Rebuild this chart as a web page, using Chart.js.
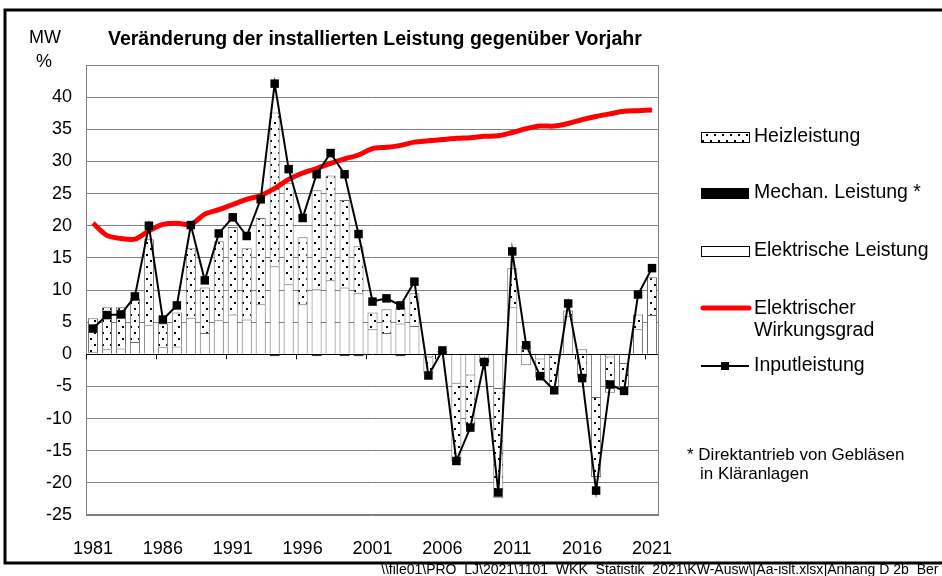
<!DOCTYPE html>
<html>
<head>
<meta charset="utf-8">
<script src="https://cdn.jsdelivr.net/npm/chart.js@4.4.1/dist/chart.umd.min.js"></script>
<style>
  body { margin: 0; background: #fff; }
  canvas { display: block; }
</style>
</head>
<body>
<canvas id="myChart" width="942" height="576"></canvas>
<script>
// Jahre 1981 - 2021
const years = [];
for (let y = 1981; y <= 2021; y++) years.push(String(y));

// Elektrische Leistung (MW)
const elektrisch = [0.3, 0.8, 0.9, 1.9, 4.5, 1.1, 1.2, 5.7, 3.3, 5.3,
    6.2, 5.4, 7.8, 13.7, 10.9, 7.8, 10.1, 11.5, 10.4, 9.5,
    3.9, 3.3, 4.8, 4.4, -0.5, 0.3, -4.6, -3.3, -0.7, -5.4,
    7.3, -1.7, -0.8, -0.3, 6.0, 0.8, -6.8, -0.5, -1.5, 3.9, 6.1];

// Mechan. Leistung (MW)
const mechanisch = [0, 0, 0, 0, 0, 0, 0, 0, 0, 0,
    0, 0, 0, -0.3, 0, 0, -0.3, 0, -0.3, -0.3,
    0, 0, -0.3, 0, 0, 0, 0, 0, -0.6, 0,
    0, 0, 0, 0, 0, 0, 0, 0, 0, 0, 0];

// Heizleistung (MW)
const heiz = [5.3, 6.5, 6.4, 6.8, 13.4, 3.7, 5.3, 10.8, 7.1, 12.3,
    13.6, 11.1, 13.4, 23.9, 15.7, 10.4, 15.4, 16.3, 13.6, 7.3,
    2.6, 3.7, 2.5, 5.1, -2.5, 0.2, -12.0, -7.8, 0, -17.0,
    6.1, 1.4, -2.8, -4.8, 0.8, -3.6, -12.3, -5.5, -3.6, 2.3, 5.9];

// Inputleistung (MW)
const input = [4.0, 6.1, 6.2, 9.0, 20.0, 5.4, 7.6, 20.1, 11.5, 18.8,
    21.3, 18.4, 24.1, 42.1, 28.8, 21.2, 28.0, 31.3, 28.0, 18.7,
    8.2, 8.7, 7.6, 11.3, -3.3, 0.6, -16.6, -11.4, -1.2, -21.5,
    16.0, 1.4, -3.4, -5.6, 7.9, -3.7, -21.2, -4.7, -5.7, 9.3, 13.4];

// Elektrischer Wirkungsgrad (%)
const wirkungsgrad = [20.4, 18.5, 18.0, 17.9, 19.2, 20.2, 20.4, 20.2, 21.8, 22.5,
    23.3, 24.1, 24.7, 25.8, 27.2, 28.2, 28.9, 29.7, 30.4, 31.0,
    32.0, 32.2, 32.5, 33.0, 33.2, 33.4, 33.6, 33.7, 33.9, 34.0,
    34.5, 35.1, 35.5, 35.5, 35.9, 36.5, 37.0, 37.4, 37.8, 37.9, 38.0];

const FONT = "'Liberation Sans', Arial, sans-serif";

// dotted pattern for Heizleistung
function makeDots() {
    const c = document.createElement('canvas');
    c.width = 8;
    c.height = 12;
    const g = c.getContext('2d');
    g.fillStyle = '#fff';
    g.fillRect(0, 0, 8, 12);
    g.fillStyle = '#000';
    g.fillRect(2, 2, 2, 2);
    g.fillRect(6, 8, 2, 2);
    return g.createPattern(c, 'repeat');
}
const dots = makeDots();

// title, legend, frame etc.
const decor = {
    id: 'decor',
    afterDraw(chart) {
        const ctx = chart.ctx;
        const a = chart.chartArea;
        ctx.save();

        // plot border
        ctx.strokeStyle = '#808080';
        ctx.lineWidth = 1;
        ctx.strokeRect(a.left + 0.5, a.top + 0.5, a.right - a.left - 1, a.bottom - a.top - 1);

        // tick marks on zero line
        const y0 = chart.scales.y.getPixelForValue(0);
        const w = (a.right - a.left) / years.length;
        ctx.strokeStyle = '#000';
        ctx.beginPath();
        for (let i = 0; i <= years.length; i += 5) {
            const x = Math.round(a.left + i * w) + 0.5;
            ctx.moveTo(x, y0);
            ctx.lineTo(x, y0 + 5);
        }
        ctx.stroke();

        // outer frame
        ctx.strokeStyle = '#000';
        ctx.lineWidth = 3;
        ctx.strokeRect(5, 10, 950, 553);

        ctx.fillStyle = '#000';
        ctx.textBaseline = 'middle';
        ctx.textAlign = 'left';
        ctx.font = 'bold 19.5px ' + FONT;
        ctx.fillText('Veränderung der installierten Leistung gegenüber Vorjahr', 108, 40);
        ctx.font = '18px ' + FONT;
        ctx.fillText('MW', 29, 38);
        ctx.fillText('%', 36, 62);

        // legend
        const sx = 701, sw = 48, tx = 754;
        ctx.font = '19.5px ' + FONT;
        // Heizleistung
        ctx.fillStyle = dots;
        ctx.fillRect(sx, 132, sw, 10);
        ctx.strokeStyle = '#000';
        ctx.lineWidth = 1;
        ctx.strokeRect(sx + 0.5, 132.5, sw, 10);
        ctx.fillStyle = '#000';
        ctx.fillText('Heizleistung', tx, 137);
        // Mechan.
        ctx.fillRect(sx, 188, sw, 11);
        ctx.fillText('Mechan. Leistung *', tx, 193);
        // Elektrische
        ctx.strokeRect(sx + 0.5, 246.5, sw, 10);
        ctx.fillText('Elektrische Leistung', tx, 251);
        // Wirkungsgrad
        ctx.strokeStyle = '#ff0000';
        ctx.lineWidth = 5;
        ctx.lineCap = 'round';
        ctx.beginPath();
        ctx.moveTo(sx + 2, 308);
        ctx.lineTo(sx + sw, 308);
        ctx.stroke();
        ctx.fillText('Elektrischer', tx, 309);
        ctx.fillText('Wirkungsgrad', tx, 331);
        // Input
        ctx.strokeStyle = '#000';
        ctx.lineWidth = 2;
        ctx.lineCap = 'butt';
        ctx.beginPath();
        ctx.moveTo(sx, 366);
        ctx.lineTo(sx + sw, 366);
        ctx.stroke();
        ctx.fillRect(sx + sw / 2 - 4, 362, 8, 8);
        ctx.fillText('Inputleistung', tx, 366);

        // footnote
        ctx.font = '17px ' + FONT;
        ctx.fillText('* Direktantrieb von Gebläsen', 687, 455);
        ctx.fillText('in Kläranlagen', 700, 474);

        // file path
        ctx.font = '14px ' + FONT;
        ctx.fillText('\\\\file01\\PRO_LJ\\2021\\1101_WKK_Statistik_2021\\KW-Ausw\\[Aa-islt.xlsx]Anhang D 2b_Ber', 381, 570);
        ctx.restore();
    }
};

const barCommon = {
    type: 'bar',
    stack: 'leistung',
    borderColor: '#6a6a6a',
    borderWidth: 1,
    barPercentage: 0.72,
    categoryPercentage: 1.0
};

new Chart('myChart', {
    data: {
        labels: years,
        datasets: [
            {
                type: 'line',
                label: 'Inputleistung',
                data: input,
                stack: 'inp',
                order: 0,
                borderColor: '#000',
                backgroundColor: '#000',
                borderWidth: 2,
                pointStyle: 'rect',
                pointRadius: 6,
                pointBorderWidth: 0,
                tension: 0
            },
            {
                type: 'line',
                label: 'Elektrischer Wirkungsgrad',
                data: wirkungsgrad,
                stack: 'wg',
                order: 1,
                borderColor: '#ff0000',
                borderWidth: 5,
                pointRadius: 0,
                tension: 0.3
            },
            Object.assign({}, barCommon, {
                label: 'Elektrische Leistung',
                data: elektrisch,
                order: 2,
                backgroundColor: '#fff'
            }),
            Object.assign({}, barCommon, {
                label: 'Mechan. Leistung *',
                data: mechanisch,
                order: 3,
                backgroundColor: '#000',
                borderColor: '#000'
            }),
            Object.assign({}, barCommon, {
                label: 'Heizleistung',
                data: heiz,
                order: 4,
                backgroundColor: dots
            })
        ]
    },
    options: {
        responsive: false,
        animation: false,
        layout: { padding: { left: 0, right: 283, top: 65, bottom: 0 } },
        plugins: {
            legend: { display: false },
            tooltip: { enabled: false }
        },
        scales: {
            x: {
                stacked: true,
                grid: { display: false },
                border: { display: false },
                afterFit(scale) { scale.height = 61; },
                ticks: {
                    autoSkip: false,
                    maxRotation: 0,
                    padding: 15,
                    color: '#000',
                    font: { family: FONT, size: 18 },
                    callback(v, i) { return i % 5 === 0 ? years[i] : ''; }
                }
            },
            y: {
                stacked: true,
                min: -25,
                max: 45,
                afterFit(scale) { scale.width = 86; },
                border: { display: false },
                grid: {
                    drawTicks: false,
                    color: c => c.tick.value === 0 ? '#000' : '#808080'
                },
                ticks: {
                    stepSize: 5,
                    padding: 14,
                    color: '#000',
                    font: { family: FONT, size: 18 },
                    callback: v => v === 45 ? '' : v
                }
            }
        }
    },
    plugins: [decor]
});
</script>
</body>
</html>
